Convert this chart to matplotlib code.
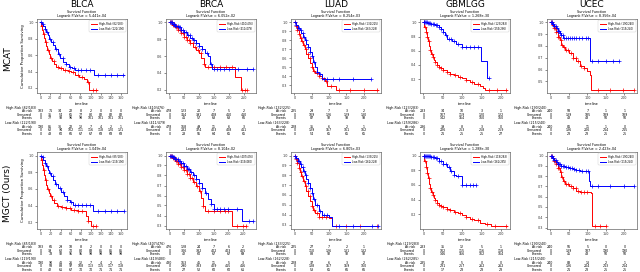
import matplotlib
matplotlib.use("Agg")
import matplotlib.pyplot as plt
from matplotlib.ticker import MultipleLocator
from matplotlib.transforms import blended_transform_factory

# ---- labels ----
cancers = ["BLCA", "BRCA", "LUAD", "GBMLGG", "UCEC"]
methods = ["MCAT", "MGCT (Ours)"]
pval_mcat = ["5.441e-04", "6.052e-02", "8.254e-03", "1.268e-30", "8.356e-04"]
pval_mgct = ["1.049e-04", "8.104e-02", "6.805e-03", "1.288e-30", "2.423e-04"]
xstep = [20, 50, 50, 50, 50]
ystep_mcat = [0.2, 0.2, 0.1, 0.2, 0.1]
ystep_mgct = [0.2, 0.1, 0.1, 0.2, 0.1]

hi_label_mcat = ["High-Risk (82/183)", "High-Risk (410/476)", "High-Risk (132/225)", "High-Risk (123/283)", "High-Risk (190/240)"]
lo_label_mcat = ["Low-Risk (122/190)", "Low-Risk (411/479)", "Low-Risk (163/228)", "Low-Risk (259/286)", "Low-Risk (215/240)"]
hi_label_mgct = ["High-Risk (85/183)", "High-Risk (407/476)", "High-Risk (133/225)", "High-Risk (119/283)", "High-Risk (190/240)"]
lo_label_mgct = ["Low-Risk (119/190)", "Low-Risk (419/480)", "Low-Risk (162/228)", "Low-Risk (262/285)", "Low-Risk (215/240)"]

# ---- KM curves (time, survival) and censor times ----
mcat_blca_hi_t = [0, 2, 4, 6, 8, 10, 12, 14, 17, 20, 24, 28, 32, 38, 45, 55, 62, 70, 78, 86, 92, 97, 112]
mcat_blca_hi_s = [1.0, .96, .91, .86, .81, .76, .71, .66, .61, .57, .53, .49, .46, .44, .42, .41, .39, .36, .34, .31, .27, .18, .18]
mcat_blca_hi_c = [3, 7, 11, 16, 22, 27, 35, 42, 50, 58, 66, 75, 83, 95, 104, 110]
mcat_blca_lo_t = [0, 3, 6, 9, 12, 15, 18, 22, 26, 30, 35, 40, 46, 52, 58, 64, 70, 106, 166]
mcat_blca_lo_s = [1.0, .98, .95, .92, .88, .84, .80, .76, .72, .68, .62, .57, .52, .49, .46, .44, .42, .36, .36]
mcat_blca_lo_c = [2, 5, 9, 14, 19, 25, 31, 38, 45, 52, 60, 68, 75, 82, 90, 98, 115, 128, 140, 152, 165]

mcat_brca_hi_t = [0, 10, 20, 30, 40, 50, 60, 70, 80, 90, 100, 108, 115, 120, 215, 222, 240, 262]
mcat_brca_hi_s = [1.0, .97, .94, .91, .87, .83, .79, .75, .71, .67, .63, .58, .50, .47, .47, .35, .20, .20]
mcat_brca_hi_c = [3, 6, 9, 12, 15, 18, 22, 26, 30, 35, 40, 45, 50, 55, 60, 65, 70, 78, 85, 95, 105, 115, 130, 150, 170, 190, 210, 245, 255, 260]
mcat_brca_lo_t = [0, 10, 20, 30, 40, 50, 60, 70, 80, 90, 100, 110, 120, 130, 138, 145, 280]
mcat_brca_lo_s = [1.0, .98, .96, .94, .91, .88, .85, .82, .79, .76, .72, .68, .64, .60, .50, .45, .45]
mcat_brca_lo_c = [2, 5, 8, 11, 14, 17, 20, 24, 28, 32, 36, 40, 45, 50, 56, 62, 68, 75, 82, 90, 100, 110, 125, 140, 150, 160, 170, 185, 200, 230, 260, 280]

mcat_luad_hi_t = [0, 4, 8, 12, 16, 20, 25, 30, 35, 40, 45, 50, 55, 60, 70, 80, 88, 95, 120, 240]
mcat_luad_hi_s = [1.0, .96, .92, .87, .83, .79, .75, .70, .65, .60, .55, .50, .46, .43, .40, .38, .35, .29, .25, .25]
mcat_luad_hi_c = [2, 5, 9, 13, 18, 23, 28, 33, 38, 44, 50, 57, 64, 72, 80, 92, 105, 130, 160, 200, 238]
mcat_luad_lo_t = [0, 5, 10, 15, 20, 25, 30, 35, 40, 45, 50, 55, 60, 65, 70, 80, 220]
mcat_luad_lo_s = [1.0, .97, .94, .91, .88, .84, .80, .76, .72, .67, .62, .56, .50, .45, .42, .37, .37]
mcat_luad_lo_c = [3, 6, 10, 14, 19, 24, 29, 34, 40, 46, 52, 58, 66, 75, 85, 95, 110, 130, 170, 220]

mcat_gbm_hi_t = [0, 3, 6, 9, 12, 15, 18, 21, 24, 27, 30, 35, 40, 45, 50, 60, 70, 80, 90, 100, 110, 120, 130, 145, 155, 160, 215]
mcat_gbm_hi_s = [1.0, .93, .86, .79, .73, .67, .61, .56, .51, .47, .44, .40, .37, .35, .33, .30, .27, .25, .23, .21, .19, .16, .13, .10, .08, .05, .05]
mcat_gbm_hi_c = [2, 4, 7, 10, 14, 18, 22, 26, 30, 35, 40, 46, 52, 60, 70, 82, 95, 110, 125, 140, 170, 190, 214]
mcat_gbm_lo_t = [0, 10, 20, 30, 40, 45, 50, 55, 60, 75, 85, 100, 130, 148, 165, 170]
mcat_gbm_lo_s = [1.0, .99, .98, .96, .93, .90, .87, .82, .76, .74, .70, .65, .65, .45, .22, .22]
mcat_gbm_lo_c = [1, 3, 5, 7, 9, 12, 15, 18, 21, 24, 28, 32, 36, 40, 45, 50, 58, 65, 72, 80, 90, 100, 110, 120, 130, 140, 170]

mcat_ucec_hi_t = [0, 5, 10, 15, 20, 25, 30, 35, 40, 50, 60, 70, 80, 90, 100, 106, 110, 225]
mcat_ucec_hi_s = [1.0, .98, .95, .92, .88, .85, .81, .79, .77, .74, .70, .67, .63, .61, .59, .55, .43, .43]
mcat_ucec_hi_c = [2, 4, 7, 10, 13, 16, 20, 24, 28, 32, 37, 42, 48, 55, 62, 68, 75, 82, 90, 130, 160, 195, 225]
mcat_ucec_lo_t = [0, 5, 10, 15, 20, 25, 30, 35, 105, 108, 185]
mcat_ucec_lo_s = [1.0, .99, .97, .95, .93, .91, .89, .87, .87, .67, .67]
mcat_ucec_lo_c = [2, 4, 6, 8, 11, 14, 17, 20, 23, 26, 30, 34, 38, 42, 47, 52, 58, 64, 70, 78, 86, 95, 102, 112, 130, 150, 170, 185]

mgct_blca_hi_t = [0, 2, 4, 6, 8, 10, 12, 14, 17, 20, 24, 28, 33, 40, 50, 60, 75, 85, 90, 95, 100, 110]
mgct_blca_hi_s = [1.0, .95, .89, .83, .77, .71, .65, .60, .55, .51, .47, .43, .40, .38, .37, .35, .34, .33, .28, .22, .16, .16]
mgct_blca_hi_c = [3, 7, 11, 16, 22, 27, 35, 42, 50, 58, 66, 75, 83, 95, 104, 110]
mgct_blca_lo_t = [0, 3, 6, 9, 12, 15, 18, 22, 26, 30, 35, 40, 46, 52, 58, 64, 105, 165]
mgct_blca_lo_s = [1.0, .98, .95, .91, .87, .83, .79, .75, .71, .66, .61, .56, .51, .47, .44, .41, .34, .34]
mgct_blca_lo_c = [2, 5, 9, 14, 19, 25, 31, 38, 45, 52, 60, 68, 75, 82, 90, 98, 115, 128, 140, 152, 165]

mgct_brca_hi_t = [0, 10, 20, 30, 40, 50, 60, 70, 80, 90, 100, 108, 115, 120, 205, 212, 260]
mgct_brca_hi_s = [1.0, .98, .95, .92, .89, .86, .82, .78, .74, .70, .65, .58, .50, .45, .45, .30, .30]
mgct_brca_hi_c = [3, 6, 9, 12, 15, 18, 22, 26, 30, 35, 40, 45, 50, 55, 60, 65, 70, 78, 85, 95, 105, 115, 130, 150, 170, 190, 200, 230, 250, 260]
mgct_brca_lo_t = [0, 10, 20, 30, 40, 50, 60, 70, 80, 90, 100, 110, 120, 130, 140, 150, 240, 245, 282]
mgct_brca_lo_s = [1.0, .99, .97, .95, .93, .90, .87, .84, .81, .77, .73, .68, .63, .57, .52, .47, .47, .35, .35]
mgct_brca_lo_c = [2, 5, 8, 11, 14, 17, 20, 24, 28, 32, 36, 40, 45, 50, 56, 62, 68, 75, 82, 90, 100, 110, 125, 140, 150, 160, 170, 185, 200, 230, 270, 282]

mgct_luad_hi_t = [0, 4, 8, 12, 16, 20, 25, 30, 35, 40, 45, 50, 55, 60, 70, 100, 108, 240]
mgct_luad_hi_s = [1.0, .96, .92, .87, .83, .79, .74, .69, .64, .59, .54, .49, .45, .42, .38, .37, .29, .29]
mgct_luad_hi_c = [2, 5, 9, 13, 18, 23, 28, 33, 38, 44, 50, 57, 64, 72, 80, 92, 120, 150, 190, 238]
mgct_luad_lo_t = [0, 5, 10, 15, 20, 25, 30, 35, 40, 45, 50, 55, 60, 70, 80, 100, 108, 240]
mgct_luad_lo_s = [1.0, .97, .94, .91, .88, .84, .80, .76, .72, .67, .62, .56, .50, .44, .40, .38, .29, .29]
mgct_luad_lo_c = [3, 6, 10, 14, 19, 24, 29, 34, 40, 46, 52, 58, 66, 75, 85, 95, 130, 170, 225, 240]

mgct_gbm_hi_t = [0, 3, 6, 9, 12, 15, 18, 21, 24, 27, 30, 35, 40, 45, 50, 60, 70, 80, 90, 100, 110, 120, 130, 145, 160, 175, 215]
mgct_gbm_hi_s = [1.0, .92, .84, .76, .69, .62, .56, .51, .46, .42, .39, .35, .33, .31, .30, .28, .26, .24, .22, .19, .17, .14, .12, .09, .07, .05, .05]
mgct_gbm_hi_c = [2, 4, 7, 10, 14, 18, 22, 26, 30, 35, 40, 46, 52, 60, 70, 82, 95, 110, 125, 140, 165, 185, 214]
mgct_gbm_lo_t = [0, 10, 20, 30, 40, 50, 60, 70, 80, 85, 100, 135]
mgct_gbm_lo_s = [1.0, .99, .98, .96, .93, .89, .85, .79, .74, .72, .60, .60]
mgct_gbm_lo_c = [1, 3, 5, 7, 9, 12, 15, 18, 21, 24, 28, 32, 36, 40, 45, 50, 58, 65, 72, 80, 90, 100, 110, 120, 128, 135]

mgct_ucec_hi_t = [0, 5, 10, 15, 20, 25, 30, 35, 40, 50, 60, 70, 80, 110, 113, 150]
mgct_ucec_hi_s = [1.0, .98, .95, .92, .88, .84, .79, .75, .72, .70, .68, .66, .65, .64, .32, .32]
mgct_ucec_hi_c = [2, 4, 7, 10, 13, 16, 20, 24, 28, 32, 37, 42, 48, 55, 62, 68, 75, 82, 90, 100, 120, 135, 150]
mgct_ucec_lo_t = [0, 5, 10, 15, 20, 30, 40, 50, 60, 70, 80, 100, 104, 108, 225]
mgct_ucec_lo_s = [1.0, .98, .96, .94, .92, .90, .89, .88, .87, .86, .85, .85, .75, .70, .70]
mgct_ucec_lo_c = [2, 4, 6, 8, 11, 14, 17, 20, 23, 26, 30, 34, 38, 42, 47, 52, 58, 64, 70, 78, 86, 95, 102, 112, 130, 160, 200, 225]

# ---- at-risk tables: at risk / censored / events ----
mcat_blca_hi_tab = [[183, 71, 34, 22, 8, 2, 0, 0, 0], [0, 35, 54, 65, 77, 80, 82, 82, 82], [0, 77, 93, 96, 98, 101, 101, 101, 101]]
mcat_blca_lo_tab = [[190, 85, 36, 22, 12, 7, 4, 2, 1], [0, 62, 94, 102, 111, 116, 118, 120, 121], [0, 43, 60, 66, 67, 67, 68, 68, 68]]
mcat_brca_hi_tab = [[478, 123, 20, 7, 5, 2], [0, 314, 391, 408, 410, 410], [0, 41, 57, 63, 63, 66]]
mcat_brca_lo_tab = [[478, 168, 49, 11, 6, 3], [0, 282, 374, 403, 408, 411], [0, 28, 55, 64, 65, 65]]
mcat_luad_hi_tab = [[225, 29, 7, 3, 2, 0], [0, 109, 126, 129, 130, 132], [0, 87, 92, 93, 93, 93]]
mcat_luad_lo_tab = [[228, 35, 6, 2, 1, 0], [0, 139, 157, 161, 162, 163], [0, 54, 65, 65, 65, 65]]
mcat_gbm_hi_tab = [[283, 34, 10, 3, 1], [0, 107, 119, 120, 122], [0, 142, 154, 160, 160]]
mcat_gbm_lo_tab = [[286, 39, 8, 3, 0], [0, 226, 253, 258, 259], [0, 21, 25, 25, 27]]
mcat_ucec_hi_tab = [[240, 58, 7, 1, 1], [0, 139, 185, 189, 189], [0, 43, 48, 50, 50]]
mcat_ucec_lo_tab = [[240, 81, 11, 1, 0], [0, 136, 206, 214, 215], [0, 23, 23, 25, 25]]

mgct_blca_hi_tab = [[183, 66, 29, 18, 8, 2, 0, 0, 0], [0, 39, 62, 70, 80, 83, 85, 85, 85], [0, 78, 92, 95, 95, 98, 98, 98, 98]]
mgct_blca_lo_tab = [[190, 90, 41, 26, 12, 7, 4, 2, 1], [0, 58, 88, 97, 108, 113, 115, 117, 118], [0, 42, 61, 67, 70, 70, 71, 71, 71]]
mgct_brca_hi_tab = [[476, 128, 24, 7, 6, 2], [0, 306, 382, 402, 403, 405], [0, 42, 60, 67, 67, 69]]
mgct_brca_lo_tab = [[480, 163, 45, 11, 5, 3], [0, 290, 383, 409, 415, 416], [0, 27, 52, 60, 60, 61]]
mgct_luad_hi_tab = [[225, 27, 7, 2, 1, 0], [0, 110, 126, 131, 132, 133], [0, 88, 92, 92, 92, 92]]
mgct_luad_lo_tab = [[228, 37, 6, 3, 2, 0], [0, 138, 157, 159, 160, 162], [0, 53, 65, 66, 66, 66]]
mgct_gbm_hi_tab = [[283, 35, 12, 5, 1], [0, 102, 115, 116, 118], [0, 146, 156, 162, 164]]
mgct_gbm_lo_tab = [[285, 37, 5, 0, 0], [0, 231, 257, 262, 262], [0, 17, 23, 23, 23]]
mgct_ucec_hi_tab = [[240, 56, 5, 0, 0], [0, 139, 187, 190, 190], [0, 45, 48, 50, 50]]
mgct_ucec_lo_tab = [[240, 83, 13, 2, 1], [0, 136, 204, 213, 214], [0, 21, 23, 25, 25]]

rows = [
    [(mcat_blca_hi_t, mcat_blca_hi_s, mcat_blca_hi_c, mcat_blca_lo_t, mcat_blca_lo_s, mcat_blca_lo_c, mcat_blca_hi_tab, mcat_blca_lo_tab),
     (mcat_brca_hi_t, mcat_brca_hi_s, mcat_brca_hi_c, mcat_brca_lo_t, mcat_brca_lo_s, mcat_brca_lo_c, mcat_brca_hi_tab, mcat_brca_lo_tab),
     (mcat_luad_hi_t, mcat_luad_hi_s, mcat_luad_hi_c, mcat_luad_lo_t, mcat_luad_lo_s, mcat_luad_lo_c, mcat_luad_hi_tab, mcat_luad_lo_tab),
     (mcat_gbm_hi_t, mcat_gbm_hi_s, mcat_gbm_hi_c, mcat_gbm_lo_t, mcat_gbm_lo_s, mcat_gbm_lo_c, mcat_gbm_hi_tab, mcat_gbm_lo_tab),
     (mcat_ucec_hi_t, mcat_ucec_hi_s, mcat_ucec_hi_c, mcat_ucec_lo_t, mcat_ucec_lo_s, mcat_ucec_lo_c, mcat_ucec_hi_tab, mcat_ucec_lo_tab)],
    [(mgct_blca_hi_t, mgct_blca_hi_s, mgct_blca_hi_c, mgct_blca_lo_t, mgct_blca_lo_s, mgct_blca_lo_c, mgct_blca_hi_tab, mgct_blca_lo_tab),
     (mgct_brca_hi_t, mgct_brca_hi_s, mgct_brca_hi_c, mgct_brca_lo_t, mgct_brca_lo_s, mgct_brca_lo_c, mgct_brca_hi_tab, mgct_brca_lo_tab),
     (mgct_luad_hi_t, mgct_luad_hi_s, mgct_luad_hi_c, mgct_luad_lo_t, mgct_luad_lo_s, mgct_luad_lo_c, mgct_luad_hi_tab, mgct_luad_lo_tab),
     (mgct_gbm_hi_t, mgct_gbm_hi_s, mgct_gbm_hi_c, mgct_gbm_lo_t, mgct_gbm_lo_s, mgct_gbm_lo_c, mgct_gbm_hi_tab, mgct_gbm_lo_tab),
     (mgct_ucec_hi_t, mgct_ucec_hi_s, mgct_ucec_hi_c, mgct_ucec_lo_t, mgct_ucec_lo_s, mgct_ucec_lo_c, mgct_ucec_hi_tab, mgct_ucec_lo_tab)],
]
pvals = [pval_mcat, pval_mgct]
ysteps = [ystep_mcat, ystep_mgct]
hi_labels = [hi_label_mcat, hi_label_mgct]
lo_labels = [lo_label_mcat, lo_label_mgct]

# ---- layout in pixels ----
W, H = 640, 272
lefts = [37, 166, 291, 420, 547]
ax_w = 90
tops = [19, 152]
bottoms = [93, 229]
RED, BLUE = "#ff0000", "#0000ff"


def fy(py):
    return 1 - py / H


def surv_at(t, s, c):
    v = s[0]
    for ti, si in zip(t, s):
        if ti <= c:
            v = si
    return v


def draw_curve(ax, t, s, c, color, label):
    ax.step(t, s, where="post", color=color, lw=0.7, label=label)
    ax.plot(c, [surv_at(t, s, ci) for ci in c], ls="none", marker="+",
            ms=2.6, mew=0.5, color=color)


fig = plt.figure(figsize=(W / 100, H / 100), dpi=100)

for r in range(2):
    for k in range(5):
        ht, hs, hc, lt, ls_, lc, htab, ltab = rows[r][k]
        left = lefts[k]
        ax = fig.add_axes([left / W, fy(bottoms[r]), ax_w / W, (bottoms[r] - tops[r]) / H])
        draw_curve(ax, ht, hs, hc, RED, hi_labels[r][k])
        draw_curve(ax, lt, ls_, lc, BLUE, lo_labels[r][k])
        ax.margins(x=0.04, y=0.05)
        ax.xaxis.set_major_locator(MultipleLocator(xstep[k]))
        ax.yaxis.set_major_locator(MultipleLocator(ysteps[r][k]))
        ax.yaxis.set_major_formatter(plt.FormatStrFormatter("%.1f"))
        ax.tick_params(labelsize=2.4, length=1.5, width=0.4, pad=1, colors="#333333")
        for sp in ax.spines.values():
            sp.set_linewidth(0.5)
            sp.set_color("#666666")
        ax.set_xlabel("timeline", fontsize=2.4, labelpad=0.8)
        ax.set_title("Survival Function\nLogrank P-Value = " + pvals[r][k], fontsize=2.4,
                     pad=1.2, linespacing=1.2)
        leg = ax.legend(loc="upper right", fontsize=1.9, handlelength=2.5,
                        borderpad=0.5, labelspacing=0.4, framealpha=1)
        leg.get_frame().set_linewidth(0.3)
        if k == 0:
            ax.set_ylabel("Cumulative Proportion Surviving", fontsize=2.8, labelpad=2)
            fig.text(8 / W, fy((tops[r] + bottoms[r]) / 2 + 3), methods[r], rotation=90,
                     ha="center", va="center", fontsize=6.5)
        if r == 0:
            fig.text((left + ax_w / 2) / W, fy(4.5), cancers[k], ha="center",
                     va="center", fontsize=6.5)

        # at-risk table
        fig.canvas.draw()
        x0, x1 = ax.get_xlim()
        ticks = [v for v in ax.get_xticks() if x0 <= v <= x1]
        tr = blended_transform_factory(ax.transData, fig.transFigure)
        base = bottoms[r]
        for g, (lab, tab) in enumerate([(hi_labels[r][k], htab), (lo_labels[r][k], ltab)]):
            y0 = base + 15 + g * 15.5
            fig.text((left - 1) / W, fy(y0), lab, ha="right", va="center", fontsize=2.3)
            for j, name in enumerate(["At risk", "Censored", "Events"]):
                yy = fy(y0 + 3.4 * (j + 1))
                fig.text((left - 5) / W, yy, name, ha="right", va="center", fontsize=2.3)
                for tv, val in zip(ticks, tab[j]):
                    ax.text(tv, yy, str(val), transform=tr, ha="center", va="center",
                            fontsize=2.3, clip_on=False)

fig.savefig("out.png", dpi=100)
